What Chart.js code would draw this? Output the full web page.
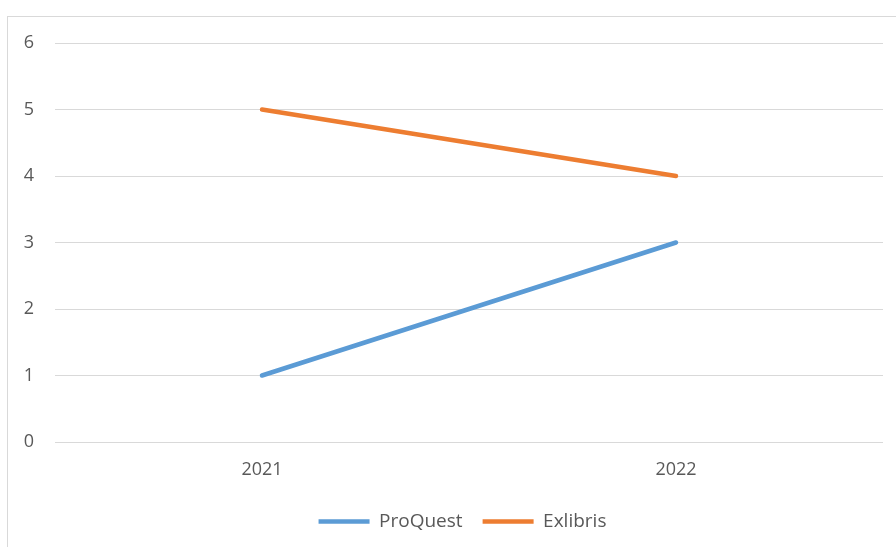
<!DOCTYPE html>
<html>
<head>
<meta charset="utf-8">
<script src="https://cdn.jsdelivr.net/npm/chart.js@4"></script>
<style>
  html, body { margin: 0; padding: 0; background: #fff; overflow: hidden; }
  #frame { position: absolute; left: 7px; top: 16px; width: 1000px; height: 1000px;
           border-left: 1px solid #d9d9d9; border-top: 1px solid #d9d9d9; }
  #wrap { position: absolute; left: 0; top: 0; width: 896px; height: 547px; }
</style>
</head>
<body>
<div id="frame"></div>
<div id="wrap"><canvas id="chart" width="896" height="547"></canvas></div>
<script>
// chart values
const years = ['2021', '2022'];
const proquest = [1, 3];
const exlibris = [5, 4];
const yTicks = [0, 1, 2, 3, 4, 5, 6];

const textColor = '#595959';
const gridColor = '#d9d9d9';
const font = { family: 'Open Sans', size: 18 };

// legend sits centred on the plot area, not the whole canvas
const legendShift = {
    id: 'legendShift',
    afterLayout(chart) {
        const lg = chart.legend;
        if (!lg) return;
        lg.left += 21;
        lg.right += 21;
    }
};

const ctx = document.getElementById('chart').getContext('2d');
new Chart(ctx, {
    type: 'line',
    data: {
        labels: years,
        datasets: [
            {
                label: 'ProQuest',
                data: proquest,
                borderColor: '#5b9bd5',
                backgroundColor: '#5b9bd5',
                borderWidth: 4.5,
                borderCapStyle: 'round',
                pointRadius: 0,
                tension: 0
            },
            {
                label: 'Exlibris',
                data: exlibris,
                borderColor: '#ed7d31',
                backgroundColor: '#ed7d31',
                borderWidth: 4.5,
                borderCapStyle: 'round',
                pointRadius: 0,
                tension: 0
            }
        ]
    },
    options: {
        responsive: false,
        animation: false,
        layout: { padding: { top: 43, right: 13, bottom: 6, left: 0 } },
        plugins: {
            tooltip: { enabled: false },
            legend: {
                position: 'bottom',
                labels: {
                    color: textColor,
                    font: { family: 'Open Sans', size: 19 },
                    usePointStyle: true,
                    pointStyle: 'line',
                    pointStyleWidth: 51,
                    padding: 20
                }
            }
        },
        scales: {
            x: {
                offset: true,
                grid: { display: false },
                border: { display: false },
                ticks: { color: textColor, font: font, padding: 9 },
                afterFit: (scale) => { scale.height = 50; }
            },
            y: {
                min: 0,
                max: 6,
                afterBuildTicks: (scale) => { scale.ticks = yTicks.map(v => ({ value: v })); },
                grid: { color: gridColor, lineWidth: 1, drawTicks: false },
                border: { display: false },
                ticks: { color: textColor, font: font, padding: 21 },
                afterFit: (scale) => { scale.width = 55; }
            }
        }
    },
    plugins: [legendShift]
});
</script>
</body>
</html>
